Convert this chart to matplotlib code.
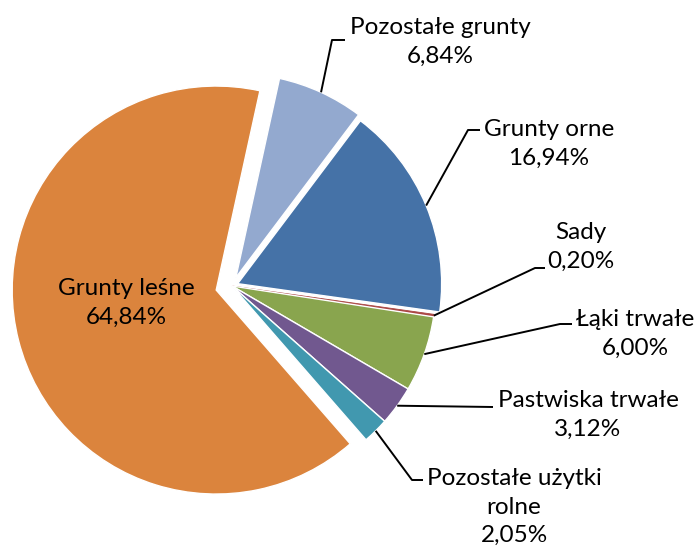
import matplotlib
matplotlib.use('Agg')
import matplotlib.pyplot as plt
import numpy as np

categories = ['Grunty orne', 'Sady', 'Łąki trwałe', 'Pastwiska trwałe',
              'Pozostałe użytki\nrolne', 'Grunty leśne', 'Pozostałe grunty']
values = [16.94, 0.20, 6.00, 3.12, 2.05, 64.84, 6.84]
colors = ['#4572A7', '#AA4643', '#89A54E', '#71588F', '#4198AF', '#DB843D', '#93A9CF']
explode = [0.03, 0, 0, 0, 0, 0.08, 0.045]

# layout (pixel coords, origin top-left)
W, H = 697, 548
S = 204.0
CX, CY = 232, 286
text_pos = [(549, 144), (581, 247), (635, 334), (588, 415), (514, 507), (126, 303), (440, 42)]
elbows = [[(468, 130), (480, 130)], [(535, 268), (545, 268)], [(560, 324), (572, 324)],
          [(493, 407)], [(412, 480), (423, 480)], None, [(332, 40), (345, 40)]]


def px(x, y):
    return ((x - CX) / S, (CY - y) / S)


plt.rcParams['font.family'] = ['Lato', 'DejaVu Sans']
fig = plt.figure(figsize=(6.97, 5.48), dpi=100)
ax = fig.add_axes([0, 0, 1, 1])
wedges, _ = ax.pie(values, colors=colors, explode=explode, startangle=53,
                   counterclock=False, radius=1,
                   wedgeprops=dict(edgecolor='white', linewidth=1.0))
# thin slice: keep it visible
wedges[1].set_edgecolor(colors[1])
wedges[1].set_linewidth(0.6)
ax.set_xlim(-CX / S, (W - CX) / S)
ax.set_ylim(-(H - CY) / S, CY / S)
ax.set_aspect('auto')
ax.axis('off')

for w, name, v, tp, el in zip(wedges, categories, values, text_pos, elbows):
    label = f"{name}\n{v:.2f}%".replace('.', ',')
    tx, ty = px(*tp)
    ax.text(tx, ty, label, ha='center', va='center', fontsize=17.5,
            linespacing=1.45, color='black')
    if el is not None:
        th = np.deg2rad((w.theta1 + w.theta2) / 2)
        cx, cy = w.center
        pts = [(cx + w.r * np.cos(th), cy + w.r * np.sin(th))] + [px(*p) for p in el]
        xs, ys = zip(*pts)
        ax.plot(xs, ys, color='black', lw=1.4, solid_capstyle='butt')

fig.savefig('out.png', dpi=100)
